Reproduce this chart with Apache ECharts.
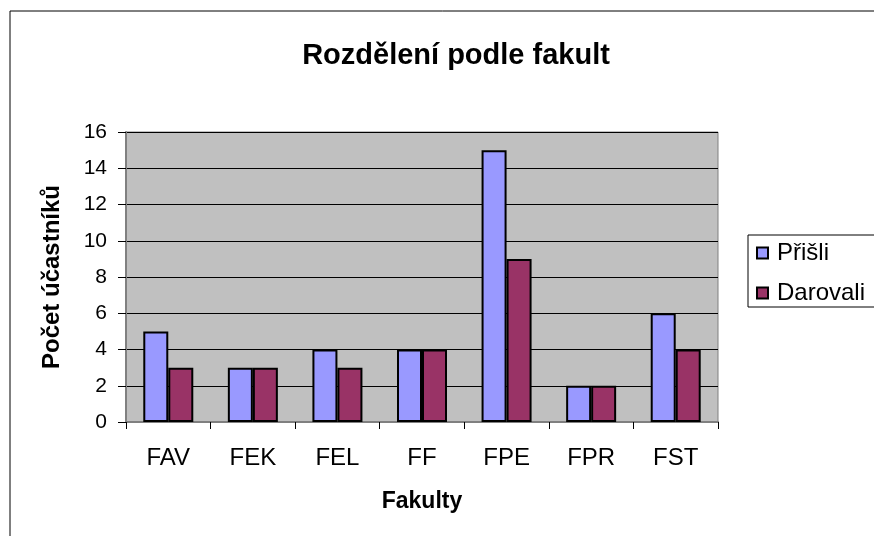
<!DOCTYPE html>
<html>
<head>
<meta charset="utf-8">
<script src="https://cdn.jsdelivr.net/npm/echarts@6/dist/echarts.min.js"></script>
<style>
  html, body { margin: 0; padding: 0; background: #fff; }
  #chart { width: 874px; height: 536px; }
</style>
</head>
<body>
<div id="chart"></div>
<script>
const categories = ['FAV', 'FEK', 'FEL', 'FF', 'FPE', 'FPR', 'FST']
const prisli = [5, 3, 4, 4, 15, 2, 6]
const darovali = [3, 3, 3, 4, 9, 2, 4]
const font = '"Liberation Sans", Arial, sans-serif'

const chart = echarts.init(document.getElementById('chart'))

const option = {
  backgroundColor: '#fff',
  animation: false,
  textStyle: { fontFamily: font, color: '#000' },
  graphic: [{
    type: 'rect',
    shape: { x: 10, y: 11, width: 900, height: 600 },
    style: { fill: 'none', stroke: '#000', lineWidth: 1 },
    silent: true
  }],
  title: {
    text: 'Rozdělení podle fakult',
    left: 451,
    textAlign: 'center',
    top: 36,
    textStyle: { fontFamily: font, fontSize: 29, fontWeight: 'bold', color: '#000' }
  },
  legend: {
    orient: 'vertical',
    left: 748,
    top: 235,
    icon: 'rect',
    itemWidth: 11,
    itemHeight: 11,
    itemGap: 16,
    padding: [6, 40, 2, 8],
    backgroundColor: '#fff',
    borderColor: '#000',
    borderWidth: 1,
    textStyle: { fontFamily: font, fontSize: 24, color: '#000', padding: [0, 0, 0, 4] },
    data: ['Přišli', 'Darovali']
  },
  grid: {
    left: 126,
    top: 132,
    right: 156,
    bottom: 114,
    show: true,
    backgroundColor: '#C0C0C0',
    borderColor: '#808080',
    borderWidth: 1
  },
  xAxis: {
    type: 'category',
    data: categories,
    name: 'Fakulty',
    nameLocation: 'middle',
    nameGap: 68,
    nameTextStyle: { fontFamily: font, fontSize: 23, fontWeight: 'bold', color: '#000' },
    axisLine: { lineStyle: { color: '#808080', width: 2 } },
    axisTick: { show: true, length: 7, lineStyle: { color: '#000' } },
    axisLabel: { fontFamily: font, fontSize: 24, color: '#000', margin: 24 }
  },
  yAxis: {
    type: 'value',
    min: 0,
    max: 16,
    interval: 2,
    name: 'Počet účastníků',
    nameLocation: 'middle',
    nameGap: 62,
    nameTextStyle: { fontFamily: font, fontSize: 24, fontWeight: 'bold', color: '#000' },
    axisLine: { show: true, lineStyle: { color: '#808080', width: 2 } },
    axisTick: { show: true, length: 8, lineStyle: { color: '#000' } },
    axisLabel: { fontFamily: font, fontSize: 21, color: '#000', margin: 19 },
    splitLine: { show: true, lineStyle: { color: '#000', width: 1 } }
  },
  series: [
    {
      name: 'Přišli',
      type: 'bar',
      data: prisli,
      barWidth: 25,
      barGap: '0%',
      itemStyle: { color: '#9999FF', borderColor: '#000', borderWidth: 2 }
    },
    {
      name: 'Darovali',
      type: 'bar',
      data: darovali,
      barWidth: 25,
      itemStyle: { color: '#993366', borderColor: '#000', borderWidth: 2 }
    }
  ]
}

chart.setOption(option)
</script>
</body>
</html>
